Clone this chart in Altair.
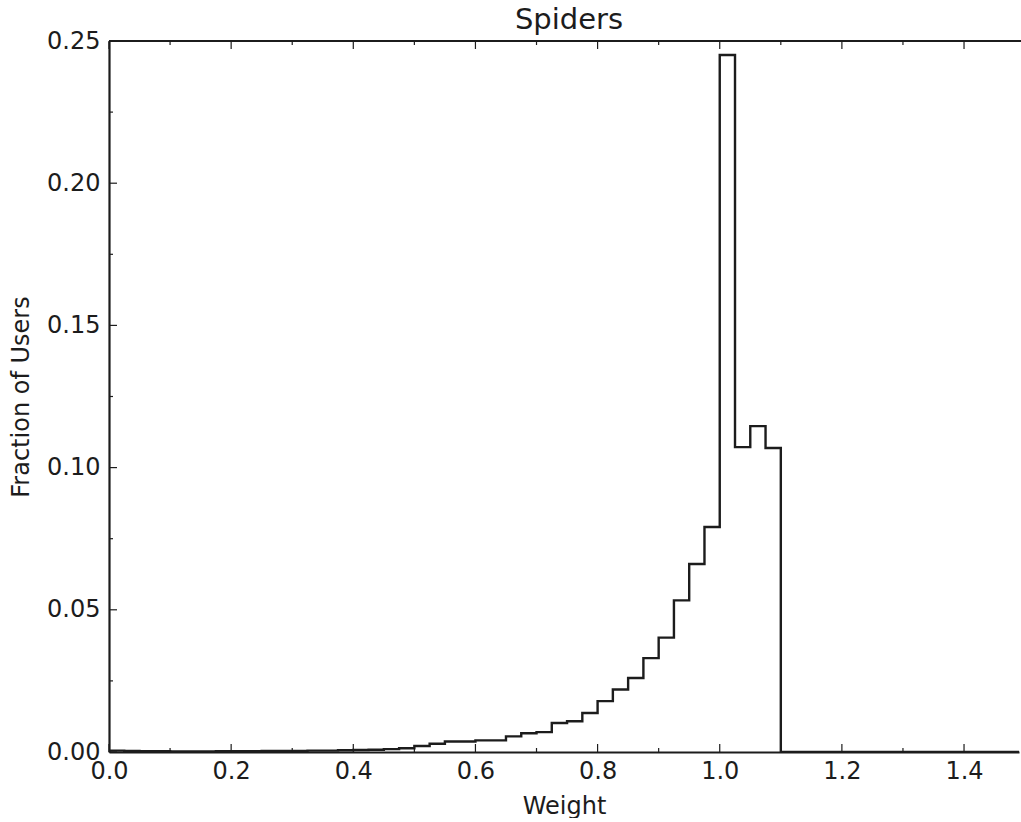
import altair as alt
import pandas as pd

BIN_WIDTH = 0.025
X_MAX = 1.49
# fraction of users per weight bin, bins of width 0.025 from 0.0 to 1.1
fractions = [
    0.0005, 0.0004, 0.0003, 0.0003, 0.0002, 0.0002, 0.0002, 0.0003,
    0.0003, 0.0003, 0.0004, 0.0004, 0.0004, 0.0005, 0.0005, 0.0006,
    0.0007, 0.0008, 0.0010, 0.0013, 0.0021, 0.0029, 0.0037, 0.0037,
    0.0041, 0.0041, 0.0055, 0.0066, 0.0070, 0.0102, 0.0108, 0.0137,
    0.0179, 0.0220, 0.0260, 0.0330, 0.0402, 0.0533, 0.0661, 0.0791,
    0.2451, 0.1072, 0.1146, 0.1069,
]
x_major = [0.0, 0.2, 0.4, 0.6, 0.8, 1.0, 1.2, 1.4]
x_minor = [0.1, 0.3, 0.5, 0.7, 0.9, 1.1, 1.3]
y_major = [0.0, 0.05, 0.10, 0.15, 0.20, 0.25]
y_minor = [0.025, 0.075, 0.125, 0.175, 0.225]

W, H = 910, 711
INK = "#1c1c1c"
FONT = "DejaVu Sans"

rows = [{"i": 0, "x": 0.0, "y": 0.0}]
for k, v in enumerate(fractions):
    rows.append({"i": k + 1, "x": round(k * BIN_WIDTH, 4), "y": v})
end = round(len(fractions) * BIN_WIDTH, 4)
rows.append({"i": len(rows), "x": end, "y": 0.0})
rows.append({"i": len(rows), "x": 1.5, "y": 0.0})
df = pd.DataFrame(rows)

xs = alt.Scale(domain=[0, X_MAX], nice=False, zero=False)
ys = alt.Scale(domain=[0, 0.25], nice=False)

x_axis = alt.Axis(values=x_major, format=".1f", title="Weight", labelPadding=7,
                  titlePadding=11, labelFlush=False, labelOverlap=False)
y_axis = alt.Axis(values=y_major, format=".2f", title="Fraction of Users",
                  labelPadding=9, titlePadding=13, labelFlush=False,
                  labelOverlap=False)

line = alt.Chart(df).mark_line(
    interpolate="step-after", color=INK, strokeWidth=2.4, clip=True
).encode(
    x=alt.X("x:Q", scale=xs, axis=x_axis),
    y=alt.Y("y:Q", scale=ys, axis=y_axis),
    order="i:Q",
)

def xticks(vals, length):
    d = pd.DataFrame({"x": vals})
    bottom = alt.Chart(d).mark_rule(color=INK, strokeWidth=1.2).encode(
        x=alt.X("x:Q", scale=xs, axis=x_axis),
        y=alt.value(H), y2=alt.value(H - length))
    top = alt.Chart(d).mark_rule(color=INK, strokeWidth=1.2).encode(
        x=alt.X("x:Q", scale=xs, axis=x_axis),
        y=alt.value(0), y2=alt.value(length))
    return [bottom, top]

def yticks(vals, length):
    d = pd.DataFrame({"y": vals})
    return [alt.Chart(d).mark_rule(color=INK, strokeWidth=1.2).encode(
        y=alt.Y("y:Q", scale=ys, axis=y_axis),
        x=alt.value(0), x2=alt.value(length))]

top_spine = alt.Chart(pd.DataFrame({"a": [0]})).mark_rule(
    color=INK, strokeWidth=2.2).encode(
    x=alt.value(0), x2=alt.value(W + 2), y=alt.value(0))

layers = [line, top_spine] + xticks(x_major, 8) + xticks(x_minor, 4) \
    + yticks(y_major, 8) + yticks(y_minor, 4)

chart = alt.layer(*layers).properties(
    width=W, height=H,
    title=alt.TitleParams("Spiders", fontSize=29, font=FONT, fontWeight="normal",
                          color=INK, offset=5, baseline="bottom", dx=5, dy=40),
    autosize=alt.AutoSizeParams(type="none"),
    padding={"left": 109, "top": 41, "right": 2, "bottom": 66},
).configure_view(stroke=None).configure_axis(
    grid=False, tickSize=0, domainColor=INK, domainWidth=2.2,
    labelFont=FONT, labelFontSize=24, labelColor=INK,
    titleFont=FONT, titleFontSize=24, titleFontWeight="normal", titleColor=INK,
)

chart.save("out.html", embed_options={"renderer": "svg", "actions": False})
